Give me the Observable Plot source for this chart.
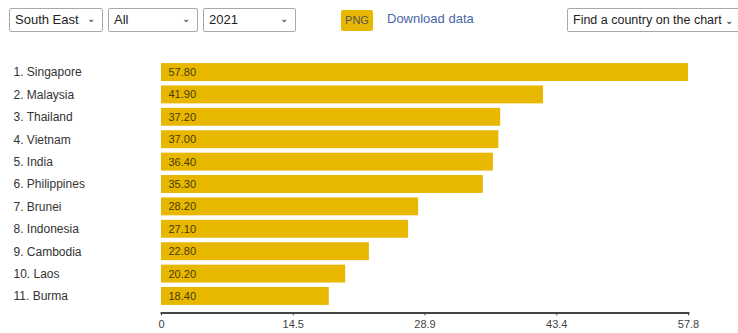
<!DOCTYPE html>
<html>
<head>
<meta charset="utf-8">
<script src="https://cdn.jsdelivr.net/npm/d3@7"></script>
<script src="https://cdn.jsdelivr.net/npm/@observablehq/plot@0.6"></script>
<style>
  html, body { margin: 0; padding: 0; background: #fff; }
  body { width: 738px; height: 333px; overflow: hidden; font-family: Arial, "Liberation Sans", sans-serif; position: relative; }
  .sel { position: absolute; top: 8px; height: 24px; box-sizing: border-box; border: 1px solid #a9a9a9; border-radius: 2px; background: #fff; font-size: 13px; color: #222; line-height: 22px; padding-left: 5px; white-space: nowrap; }
  .sel .arr { position: absolute; right: 7px; top: -1px; font-size: 10px; color: #333; }
  #png { position: absolute; left: 341px; top: 10px; width: 32px; height: 21px; background: #e8b800; border-radius: 2px; font-size: 11px; color: #555; text-align: center; line-height: 21px; }
  #dl { position: absolute; left: 387px; top: 11px; font-size: 13px; color: #4a66a8; }
  #chart { position: absolute; left: 0; top: 45px; line-height: 0; }
  #chart svg { display: block; }
</style>
</head>
<body>
<div class="sel" style="left:9px;width:94px">South East<span class="arr">&#x2304;</span></div>
<div class="sel" style="left:108px;width:90px">All<span class="arr">&#x2304;</span></div>
<div class="sel" style="left:203px;width:93px">2021<span class="arr">&#x2304;</span></div>
<div id="png">PNG</div>
<div id="dl">Download data</div>
<div class="sel" style="left:567px;width:190px;font-size:12.5px">Find a country on the chart <span style="font-size:10px">&#x2304;</span></div>
<div id="chart"></div>
<script>
const countries = ["Singapore", "Malaysia", "Thailand", "Vietnam", "India", "Philippines", "Brunei", "Indonesia", "Cambodia", "Laos", "Burma"];
const values = [57.8, 41.9, 37.2, 37.0, 36.4, 35.3, 28.2, 27.1, 22.8, 20.2, 18.4];
const tickValues = [0, 14.45, 28.9, 43.35, 57.8];
const tickLabels = ["0", "14.5", "28.9", "43.4", "57.8"];

const data = countries.map((c, i) => ({label: `${i + 1}. ${c}`, value: values[i]}));
const order = data.map(d => d.label);

const chart = Plot.plot({
  width: 738,
  height: 288,
  marginLeft: 161,
  marginRight: 50,
  marginTop: 13.6,
  marginBottom: 23.6,
  style: {fontFamily: "Arial, 'Liberation Sans', sans-serif"},
  x: {domain: [0, 57.8], axis: null, label: null},
  y: {domain: order, padding: 0.2, round: false, axis: null},
  marks: [
    Plot.barX(data, {x: "value", y: "label", fill: "#e8b800"}),
    Plot.text(data, {x: 0, y: "label", text: d => d.value.toFixed(2), textAnchor: "start", dx: 7, fill: "#4a3a00", fontSize: 11}),
    Plot.text(data, {y: "label", text: "label", frameAnchor: "left", textAnchor: "start", dx: -148, fill: "#333", fontSize: 12}),
    Plot.frame({anchor: "bottom", dy: 3, stroke: "#444", strokeWidth: 2}),
    Plot.axisX({ticks: tickValues, tickFormat: (d, i) => tickLabels[i], tickSize: 3, dy: 3, tickPadding: 4, fontSize: 11, color: "#444", label: null})
  ]
});
document.getElementById("chart").appendChild(chart);
</script>
</body>
</html>
